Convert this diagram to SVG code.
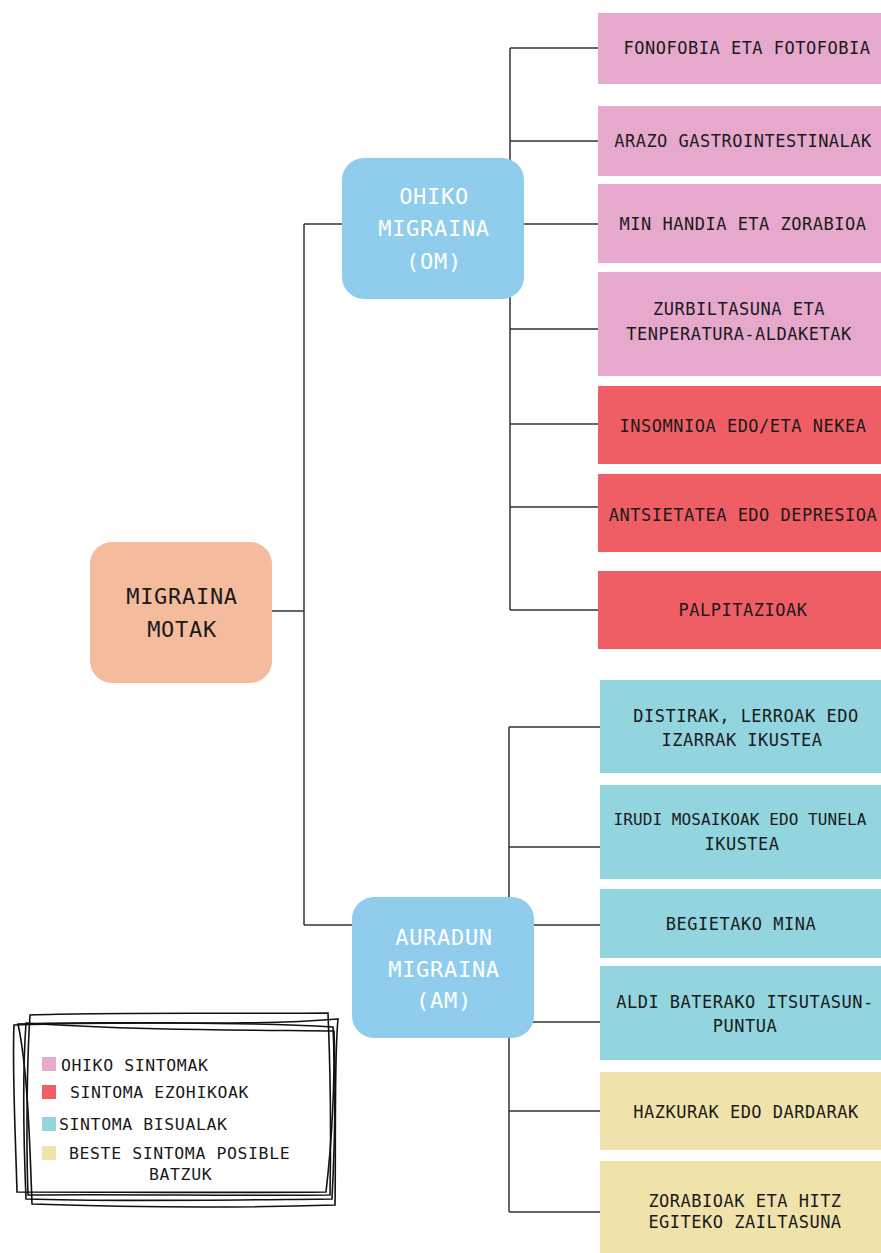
<svg xmlns="http://www.w3.org/2000/svg" width="881" height="1253" viewBox="0 0 881 1253">
<style>
.t{font-family:"DejaVu Sans Mono","Liberation Mono",monospace;font-size:17px;letter-spacing:0.5px;fill:#1a1a1a;text-anchor:middle}
.big{font-family:"DejaVu Sans Mono","Liberation Mono",monospace;font-size:22px;letter-spacing:0.7px;text-anchor:middle}
.lg{font-family:"DejaVu Sans Mono","Liberation Mono",monospace;font-size:16.5px;letter-spacing:0.6px;fill:#1a1a1a}
.c{stroke:#333;stroke-width:1.5;fill:none}
.pink{fill:#E6A9CD}.red{fill:#EF5E64}.teal{fill:#92D5DF}.yel{fill:#F0E2AB}
.sk{fill:none;stroke:#111;stroke-width:1.6}
</style>
<rect width="881" height="1253" fill="#fff"/>
<g id="connectors" class="c">
<path d="M272 611H304M304 224V925M304 224H342M304 925H352"/>
<path d="M510 48V610M510 48H598M510 141H598M524 224H598M510 329H598M510 424H598M510 507H598M510 610H598"/>
<path d="M509 727V1212M509 727H600M509 847H600M534 925H600M509 1022H600M509 1111H600M509 1212H600"/>
</g>
<g id="root"><rect x="90" y="542" width="182" height="141" rx="22" fill="#F4BB9D"/>
<text class="big" fill="#1a1a1a" x="182" y="604">MIGRAINA</text><text class="big" fill="#1a1a1a" x="182" y="637">MOTAK</text></g>
<g id="om"><rect x="342" y="158" width="182" height="141" rx="22" fill="#90CDED"/>
<text class="big" fill="#fff" x="434" y="204">OHIKO</text><text class="big" fill="#fff" x="434" y="236">MIGRAINA</text><text class="big" fill="#fff" x="434" y="269">(OM)</text></g>
<g id="am"><rect x="352" y="897" width="182" height="141" rx="22" fill="#90CDED"/>
<text class="big" fill="#fff" x="444" y="945">AURADUN</text><text class="big" fill="#fff" x="444" y="977">MIGRAINA</text><text class="big" fill="#fff" x="444" y="1008">(AM)</text></g>
<g id="s1"><rect class="pink" x="598" y="13" width="283" height="71"/><text class="t" x="747" y="54">FONOFOBIA ETA FOTOFOBIA</text></g>
<g id="s2"><rect class="pink" x="598" y="106" width="283" height="70"/><text class="t" x="743" y="147">ARAZO GASTROINTESTINALAK</text></g>
<g id="s3"><rect class="pink" x="598" y="184" width="283" height="79"/><text class="t" x="743" y="230">MIN HANDIA ETA ZORABIOA</text></g>
<g id="s4"><rect class="pink" x="598" y="272" width="283" height="104"/><text class="t" x="739" y="315">ZURBILTASUNA ETA</text><text class="t" x="739" y="340">TENPERATURA-ALDAKETAK</text></g>
<g id="s5"><rect class="red" x="598" y="386" width="283" height="78"/><text class="t" x="743" y="432">INSOMNIOA EDO/ETA NEKEA</text></g>
<g id="s6"><rect class="red" x="598" y="474" width="283" height="78"/><text class="t" x="743" y="521">ANTSIETATEA EDO DEPRESIOA</text></g>
<g id="s7"><rect class="red" x="598" y="571" width="283" height="78"/><text class="t" x="743" y="616">PALPITAZIOAK</text></g>
<g id="s8"><rect class="teal" x="600" y="680" width="281" height="93"/><text class="t" x="746" y="722">DISTIRAK, LERROAK EDO</text><text class="t" x="742" y="746">IZARRAK IKUSTEA</text></g>
<g id="s9"><rect class="teal" x="600" y="785" width="281" height="94"/><text class="t" x="740" y="825" style="font-size:16px;letter-spacing:0.1px">IRUDI MOSAIKOAK EDO TUNELA</text><text class="t" x="742" y="850">IKUSTEA</text></g>
<g id="s10"><rect class="teal" x="600" y="889" width="281" height="69"/><text class="t" x="741" y="930">BEGIETAKO MINA</text></g>
<g id="s11"><rect class="teal" x="600" y="966" width="281" height="94"/><text class="t" x="745" y="1008">ALDI BATERAKO ITSUTASUN-</text><text class="t" x="745" y="1032">PUNTUA</text></g>
<g id="s12"><rect class="yel" x="600" y="1072" width="281" height="78"/><text class="t" x="746" y="1118">HAZKURAK EDO DARDARAK</text></g>
<g id="s13"><rect class="yel" x="600" y="1161" width="281" height="92"/><text class="t" x="745" y="1207">ZORABIOAK ETA HITZ</text><text class="t" x="745" y="1228">EGITEKO ZAILTASUNA</text></g>
<g id="legend">
<path class="sk" d="M30 1015C110 1012 230 1014 328 1013C330 1060 331 1140 330 1195C230 1196 120 1194 28 1195C26 1140 27 1060 30 1015Z"/>
<path class="sk" d="M18 1024C120 1020 240 1027 338 1019C334 1060 336 1150 335 1205C240 1208 120 1207 32 1204C30 1150 28 1070 18 1024Z"/>
<path class="sk" d="M14 1025C100 1022 250 1022 333 1027C336 1080 331 1150 326 1192C240 1193 110 1192 17 1192C16 1150 12 1070 14 1025Z"/>
<path class="sk" d="M26 1023C120 1030 250 1030 334 1031C336 1090 334 1160 332 1199C230 1200 110 1202 26 1199C24 1150 22 1080 26 1023Z"/>
<rect class="pink" x="42" y="1057" width="14" height="14"/>
<rect class="red" x="42" y="1085" width="14" height="14"/>
<rect class="teal" x="42" y="1117" width="14" height="14"/>
<rect class="yel" x="42" y="1146" width="14" height="14"/>
<text class="lg" x="61" y="1071">OHIKO SINTOMAK</text>
<text class="lg" x="70" y="1098">SINTOMA EZOHIKOAK</text>
<text class="lg" x="59" y="1130">SINTOMA BISUALAK</text>
<text class="lg" x="69" y="1159">BESTE SINTOMA POSIBLE</text>
<text class="lg" x="149" y="1180">BATZUK</text>
</g>
</svg>
